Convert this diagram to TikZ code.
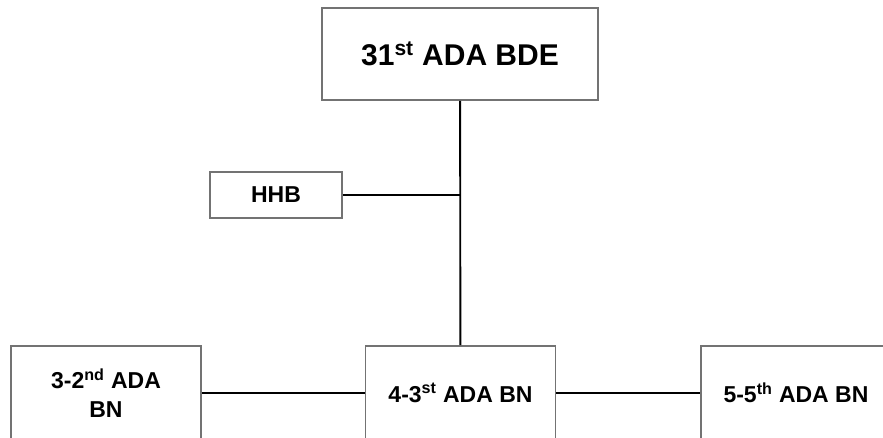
\documentclass[tikz,border=0pt]{standalone}
\usepackage{fontspec}
\setmainfont{Liberation Sans}
\usepackage{xcolor}
\usetikzlibrary{arrows.meta}
\tikzset{ubox/.style={rectangle,draw=black!55,line width=1.3pt,fill=white,inner sep=0,
                      align=center,font=\fontsize{17.25}{21.5}\selectfont\bfseries,
                      minimum width=#1},
         ubox/.default=142.5pt
}

\begin{document}
\begin{tikzpicture}[x=0.75pt,y=-0.75pt]
  \clip (0,0) rectangle (883,438);
  \begin{scope}[every node/.style={ubox}]
    \node[minimum height=69pt,font=\fontsize{22.5}{27}\selectfont\bfseries,
          minimum width=207pt] (BDE) at (460,54) {31\textsuperscript{st} ADA BDE};
    \node[minimum height=34.5pt,minimum width=99pt] (HHB) at (276,195) {HHB};
    \node[minimum height=70.5pt] (BN3) at (106,393) {3-2\textsuperscript{nd} ADA\\BN};
    \node[minimum height=70.5pt] (BN4) at (460.5,393) {4-3\textsuperscript{st} ADA BN};
    \node[minimum height=70.5pt] (BN5) at (796,393) {5-5\textsuperscript{th} ADA BN};
  \end{scope}
  \coordinate (J) at (BDE.south |- HHB.east);
  % links:
  \begin{scope}[every edge/.style={draw=black,line width=1.4pt}]
        \path [-] (BDE) edge (BN4);
        \path [-] (HHB) edge (J);
        \path [-] (BN3) edge (BN4);
        \path [-] (BN4) edge (BN5);
  \end{scope}
\end{tikzpicture}
\end{document}
